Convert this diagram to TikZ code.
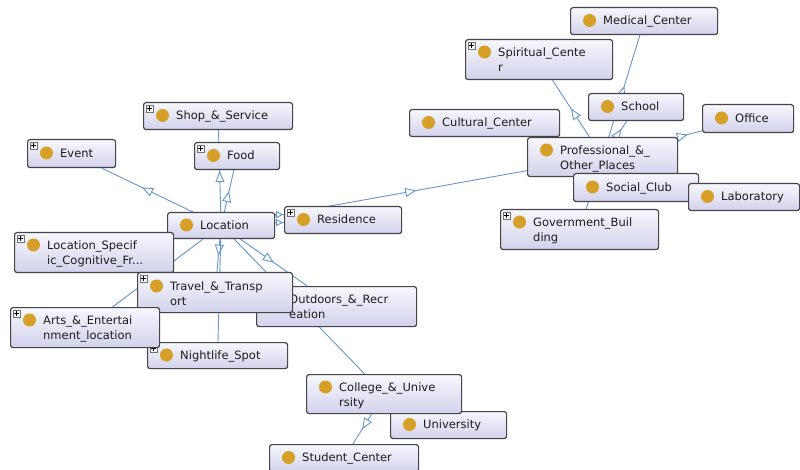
\documentclass[tikz,border=0pt]{standalone}
\usepackage{fontspec}
\usetikzlibrary{arrows.meta,decorations.markings}
\newfontfamily\lblfont{DejaVu Sans}

\definecolor{edgecol}{RGB}{98,152,204}
\definecolor{boxline}{RGB}{68,68,74}
\definecolor{boxtop}{RGB}{247,247,253}
\definecolor{boxbot}{RGB}{210,210,236}
\definecolor{dotcol}{RGB}{214,160,40}
\definecolor{textcol}{RGB}{28,28,28}

\pgfdeclarelayer{bg}
\pgfdeclarelayer{links}
\pgfsetlayers{bg,links,main}

\tikzset{
  classbox/.style={draw=boxline, line width=1.2pt, rounded corners=2.5pt,
    top color=boxtop, bottom color=boxbot, inner sep=0pt},
  classtext/.style={anchor=north west, inner sep=0pt, align=left,
    font=\lblfont\fontsize{11.5}{15}\selectfont, text=textcol},
  plusbox/.style={draw=black!55, fill=black!4, line width=.5pt,
    minimum size=7pt, inner sep=0pt,
    path picture={\draw[black, line width=.8pt]
      ([xshift=-2.3pt]path picture bounding box.center) -- ([xshift=2.3pt]path picture bounding box.center)
      ([yshift=-2.3pt]path picture bounding box.center) -- ([yshift=2.3pt]path picture bounding box.center);}},
  isa/.style={color=edgecol, line width=.9pt, postaction={decorate},
    decoration={markings, mark=at position #1 with
      {\arrow{Triangle[width=9pt,length=11pt,fill=white]}}}},
  isa/.default=0.5,
  short isa/.style={color=edgecol, line width=.9pt, postaction={decorate},
    decoration={markings, mark=at position 0.9 with
      {\arrow{Triangle[width=7pt,length=7pt,fill=white]}}}}
}

% \onto{name}{left}{top}{right}{bottom}{label}{dot offset}{expand icon 0/1}
\newcommand\onto[8]{%
  \pgfmathsetmacro\ow{#4-#2}\pgfmathsetmacro\oh{#5-#3}%
  \node[classbox, minimum width=\ow pt, minimum height=\oh pt, anchor=north west] (#1) at (#2,#3) {};
  \fill[dotcol] ({#2+19.5},{#3+#7}) circle[radius=6.5pt];
  \node[classtext] (#1-t) at ({#2+33},{#3+#7-5}) {\rule{0pt}{9pt}#6};
  \ifnum#8=1 \node[plusbox] (#1-p) at ({#2+6.5},{#3+6.5}) {};\fi
}

\begin{document}
\begin{tikzpicture}[x=1pt,y=-1pt]
\useasboundingbox (0,0) rectangle (800,470);
\begin{pgfonlayer}{bg}
  \fill[white] (0,0) rectangle (800,470);
\end{pgfonlayer}
\clip (0,0) rectangle (800,470);

% right-hand cluster
\onto{medical}{570}{7}{717}{34}{Medical\_Center}{13.5}{0}
\onto{spiritual}{465}{39}{612}{79}{Spiritual\_Cente\\r}{13}{1}
\onto{school}{588}{93}{683}{120}{School}{13.5}{0}
\onto{office}{702}{104}{793}{132}{Office}{14}{0}
\onto{cultural}{409}{109}{559}{136}{Cultural\_Center}{13.5}{0}
\onto{professional}{527}{137}{677}{176}{Professional\_\&\_\\Other\_Places}{13}{0}
\onto{social}{573}{173}{698}{201}{Social\_Club}{14}{0}
\onto{laboratory}{688}{183}{799}{210}{Laboratory}{13.5}{0}
\onto{government}{500}{209}{658}{249}{Government\_Buil\\ding}{13}{1}

% left-hand cluster
\onto{shop}{143}{102}{292}{129}{Shop\_\&\_Service}{13.5}{1}
\onto{event}{27}{139}{115}{167}{Event}{14}{1}
\onto{food}{194}{142}{279}{169}{Food}{13.5}{1}
\onto{location}{167}{212}{274}{238}{Location}{13}{0}
\onto{residence}{284}{206}{401}{233}{Residence}{13.5}{1}
\onto{locspec}{14}{232}{173}{272}{Location\_Specif\\ic\_Cognitive\_Fr...}{13}{1}
\onto{outdoors}{256}{286}{416}{326}{Outdoors\_\&\_Recr\\eation}{13}{1}
\onto{travel}{137}{272}{292}{312}{Travel\_\&\_Transp\\ort}{14}{1}
\onto{nightlife}{147}{342}{287}{368}{Nightlife\_Spot}{13}{1}
\onto{arts}{10}{307}{159}{347}{Arts\_\&\_Entertai\\nment\_location}{13}{1}
\onto{university}{390}{411}{506}{438}{University}{13.5}{0}
\onto{college}{306}{374}{461}{413}{College\_\&\_Unive\\rsity}{13}{0}
\onto{student}{269}{444}{418}{471}{Student\_Center}{13.5}{0}

% subclass links, under the boxes
\begin{pgfonlayer}{links}
  \draw[isa=0.56] (location) -- (event);
  \draw[isa] (location) -- (shop);
  \draw[isa] (location) -- (food);
  \draw[isa=0.56] (location) -- (professional);
  \draw[isa] (location) -- (arts);
  \draw[isa] (location) -- (travel);
  \draw[isa] (location) -- (nightlife);
  \draw[isa] (location) -- (outdoors);
  \draw[isa] (location) -- (college);
  \draw[isa] (college) -- (student);
  \draw[isa] (professional) -- (spiritual);
  \draw[isa] (professional) -- (medical);
  \draw[isa] (professional) -- (school);
  \draw[isa=0.4] (professional) -- (office);
  \draw[isa] (professional) -- (government);
  \draw[short isa] ([yshift=11pt]location.east) -- ([yshift=5.5pt]residence.west);
  \draw[short isa] ([yshift=3pt]location.east) -- ([yshift=-2.5pt]residence.west);
\end{pgfonlayer}
\end{tikzpicture}
\end{document}
